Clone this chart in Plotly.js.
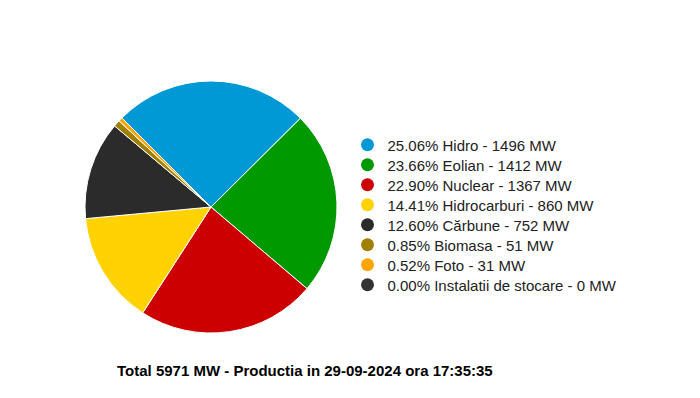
<!DOCTYPE html>
<html>
<head>
<meta charset="utf-8">
<script src="https://cdn.plot.ly/plotly-3.0.1.min.js"></script>
<style>html,body{margin:0;padding:0;background:#fff;}#chart{width:700px;height:398px;}</style>
</head>
<body>
<div id="chart"></div>
<script>
// ---- data ----
const sources = ['Hidro', 'Eolian', 'Nuclear', 'Hidrocarburi', 'Cărbune', 'Biomasa', 'Foto', 'Instalatii de stocare'];
const powerMW = [1496, 1412, 1367, 860, 752, 51, 31, 0];
const percents = ['25.06', '23.66', '22.90', '14.41', '12.60', '0.85', '0.52', '0.00'];
const colors = ['#0099d5', '#009900', '#cc0000', '#ffd200', '#2b2b2b', '#a08000', '#ffa500', '#333333'];
const totalMW = 5971;
const stamp = '29-09-2024 ora 17:35:35';

const FONT = 'Arial, "Liberation Sans", sans-serif';

const traces = [{
  type: 'pie',
  labels: sources,
  values: powerMW,
  sort: false,
  direction: 'clockwise',
  rotation: -45,
  textinfo: 'none',
  hoverinfo: 'skip',
  showlegend: false,
  marker: { colors: colors, line: { color: '#ffffff', width: 1 } },
  domain: { x: [85 / 700, 337 / 700], y: [65 / 398, 317 / 398] }
}];

const layout = {
  width: 700, height: 398,
  margin: { l: 0, r: 0, t: 0, b: 0 },
  paper_bgcolor: '#ffffff', plot_bgcolor: '#ffffff',
  xaxis: { visible: false, domain: [0.9, 1] },
  yaxis: { visible: false, domain: [0.9, 1] },
  font: { family: FONT, color: '#222222' },
  annotations: [{
    text: '<b>Total ' + totalMW + ' MW - Productia in ' + stamp + '</b>',
    xref: 'paper', yref: 'paper', x: 115 / 700, y: (398 - 370) / 398,
    xanchor: 'left', yanchor: 'middle', showarrow: false,
    font: { family: FONT, size: 15, color: '#000000' }
  }]
};

sources.forEach((name, i) => {
  const key = i === 0 ? 'legend' : 'legend' + (i + 1);
  traces.push({
    type: 'scatter', mode: 'markers', x: [null], y: [null],
    name: percents[i] + '% ' + name + ' - ' + powerMW[i] + ' MW',
    marker: { color: colors[i], size: 13, symbol: 'circle' },
    legend: key, showlegend: true, hoverinfo: 'skip'
  });
  const rowY = 145 + 20 * i;
  layout[key] = {
    x: 347.5 / 700, xanchor: 'left',
    y: (398 - rowY) / 398, yanchor: 'middle',
    bgcolor: 'rgba(0,0,0,0)', borderwidth: 0,
    font: { family: FONT, size: 15, color: '#222222' }
  };
});

Plotly.newPlot('chart', traces, layout, { displayModeBar: false, staticPlot: true });
</script>
</body>
</html>
